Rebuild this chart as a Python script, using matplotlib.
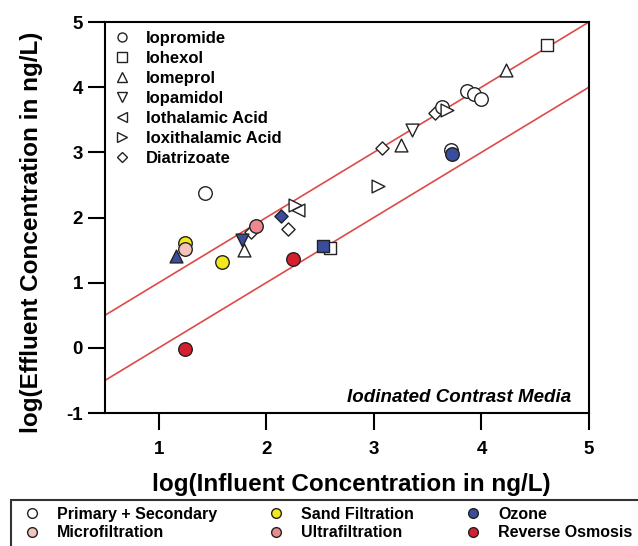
import matplotlib
matplotlib.use("Agg")
import matplotlib.pyplot as plt
from matplotlib.lines import Line2D
from matplotlib.patches import Rectangle

plt.rcParams['font.family'] = ['Liberation Sans', 'DejaVu Sans']
plt.rcParams['font.weight'] = 'bold'
plt.rcParams['axes.unicode_minus'] = False

# treatment processes (fill colour)
processes = ["Primary + Secondary", "Microfiltration", "Sand Filtration",
             "Ultrafiltration", "Ozone", "Reverse Osmosis"]
process_colors = ["white", "#f4c4bc", "#f3e81c", "#ee8890", "#3a4d9c", "#d4202e"]

# compounds (marker shape)
compounds = ["Iopromide", "Iohexol", "Iomeprol", "Iopamidol",
             "Iothalamic Acid", "Ioxithalamic Acid", "Diatrizoate"]
compound_markers = ["o", "s", "^", "v", "<", ">", "D"]

# process index: 0 prim+sec, 1 micro, 2 sand, 3 ultra, 4 ozone, 5 RO
iopromide_x = [1.43, 1.24, 1.24, 1.59, 1.90, 2.25, 1.24, 3.63, 3.72, 3.73, 3.87, 3.93, 4.00]
iopromide_y = [2.37, 1.61, 1.51, 1.32, 1.87, 1.37, -0.02, 3.69, 3.03, 2.97, 3.94, 3.89, 3.82]
iopromide_p = [0, 2, 1, 2, 3, 5, 5, 0, 0, 4, 0, 0, 0]

iohexol_x = [2.59, 2.53, 4.61]
iohexol_y = [1.53, 1.56, 4.64]
iohexol_p = [0, 4, 0]

iomeprol_x = [1.16, 1.79, 3.25, 4.23]
iomeprol_y = [1.41, 1.50, 3.11, 4.27]
iomeprol_p = [4, 0, 0, 0]

iopamidol_x = [1.77, 3.35]
iopamidol_y = [1.66, 3.35]
iopamidol_p = [4, 0]

iothalamic_x = [2.29]
iothalamic_y = [2.12]
iothalamic_p = [0]

ioxithalamic_x = [2.27, 3.04, 3.68]
ioxithalamic_y = [2.19, 2.48, 3.65]
ioxithalamic_p = [0, 0, 0]

diatrizoate_x = [1.86, 2.14, 2.20, 3.08, 3.57]
diatrizoate_y = [1.78, 2.02, 1.83, 3.06, 3.60]
diatrizoate_p = [0, 4, 0, 0, 0]

series = [(iopromide_x, iopromide_y, iopromide_p),
          (iohexol_x, iohexol_y, iohexol_p),
          (iomeprol_x, iomeprol_y, iomeprol_p),
          (iopamidol_x, iopamidol_y, iopamidol_p),
          (iothalamic_x, iothalamic_y, iothalamic_p),
          (ioxithalamic_x, ioxithalamic_y, ioxithalamic_p),
          (diatrizoate_x, diatrizoate_y, diatrizoate_p)]
marker_sizes = [95, 80, 85, 85, 85, 85, 45]

# 1:1 line and 1 log unit below
ref_x = [0.5, 5]
ref_offsets = [0, -1]

fig = plt.figure(figsize=(6.38, 5.46), dpi=100)
ax = fig.add_axes([105/638, 1 - 413/546, 484/638, 391/546])

for off in ref_offsets:
    ax.plot(ref_x, [v + off for v in ref_x], color="#de4a48", lw=1.2, zorder=1)

for i, (xs, ys, ps) in enumerate(series):
    z = 2 if compound_markers[i] == "D" else 3
    for x, y, p in zip(xs, ys, ps):
        ax.scatter(x, y, s=marker_sizes[i], marker=compound_markers[i],
                   facecolor=process_colors[p], edgecolor="#222222",
                   linewidths=1.0, zorder=z + (0.5 if p > 0 else 0))

ax.set_xlim(0.5, 5)
ax.set_ylim(-1, 5)
ax.set_xticks([1, 2, 3, 4, 5])
ax.set_yticks([-1, 0, 1, 2, 3, 4, 5])
for s in ax.spines.values():
    s.set_linewidth(1.5)
ax.tick_params(axis="both", labelsize=13.5, width=1.5, direction="out")
ax.tick_params(axis="x", length=12, pad=8)
ax.tick_params(axis="y", length=12, pad=4)

ax.set_xlabel("log(Influent Concentration in ng/L)", fontsize=17.5, fontweight="bold")
ax.set_ylabel("log(Effluent Concentration in ng/L)", fontsize=17.5, fontweight="bold")
ax.xaxis.set_label_coords((351 - 105) / 484, -(473 - 413) / 391)
ax.yaxis.set_label_coords((43 - 105) / 484, 1 - (232 - 22) / 391)

ax.text((571 - 105) / 484, (413 - 398) / 391, "Iodinated Contrast Media",
        transform=ax.transAxes, ha="right", va="center", fontsize=13.5,
        fontweight="bold", style="italic")

comp_handles = [Line2D([], [], ls="none", marker=m, ms=6.5 if m != "D" else 5.5,
                       mfc="white", mec="#222222", mew=1.0) for m in compound_markers]
ax.legend(comp_handles, compounds, loc="upper left", bbox_to_anchor=(9 / 484, 1 - 9 / 391),
          frameon=False, borderaxespad=0, borderpad=0, handlelength=1.0,
          handletextpad=0.92, labelspacing=0.3, prop={"size": 12, "weight": "bold"})

proc_handles = [Line2D([], [], ls="none", marker="o", ms=7, mfc=c, mec="#222222", mew=1.0)
                for c in process_colors]
fig.legend(proc_handles, processes, ncol=3, loc="upper left",
           bbox_to_anchor=(24 / 638, 1 - 507 / 546), frameon=False, borderaxespad=0,
           borderpad=0, handlelength=1.0, handletextpad=1.06, columnspacing=3.2,
           labelspacing=0.2, prop={"size": 11.5, "weight": "bold"})
fig.patches.append(Rectangle((11 / 638, -0.05), 1.0, (546 - 500) / 546 + 0.05,
                             transform=fig.transFigure, fill=False, lw=1.5,
                             edgecolor="#333333"))

fig.savefig("out.png", dpi=100)
